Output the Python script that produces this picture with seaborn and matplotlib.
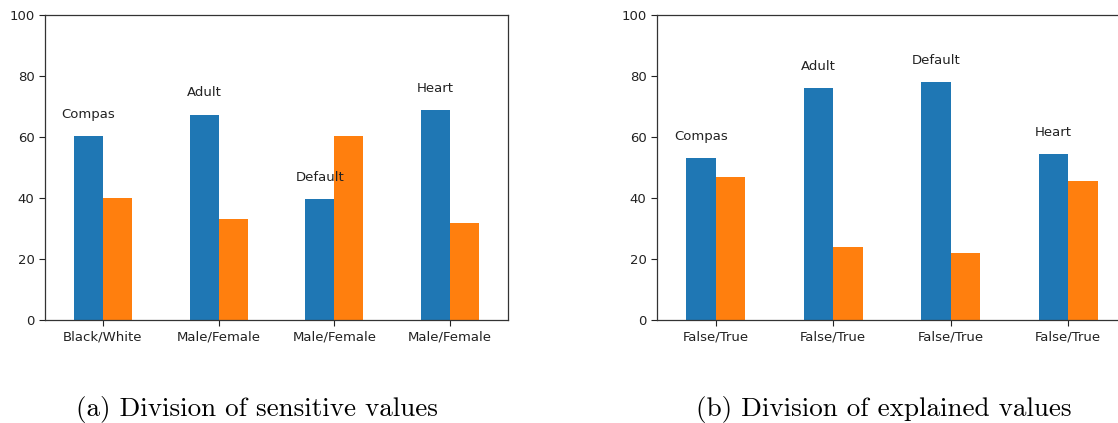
import matplotlib
matplotlib.use("Agg")
import matplotlib.pyplot as plt
import seaborn as sns
import pandas as pd

datasets = ["Compas", "Adult", "Default", "Heart"]

sensitive_labels = ["Black/White", "Male/Female", "Male/Female", "Male/Female"]
sensitive_first = [60.3, 67.3, 39.7, 68.7]
sensitive_second = [40.0, 33.2, 60.3, 31.9]

explained_labels = ["False/True", "False/True", "False/True", "False/True"]
explained_first = [53.0, 76.1, 77.9, 54.3]
explained_second = [47.0, 23.9, 22.1, 45.7]

captions = ["(a) Division of sensitive values", "(b) Division of explained values"]

palette = ["#1f77b4", "#ff7f0e"]


def long_frame(first, second):
    rows = []
    for i, (a, b) in enumerate(zip(first, second)):
        rows.append({"pos": i, "part": "first", "value": a})
        rows.append({"pos": i, "part": "second", "value": b})
    return pd.DataFrame(rows)


def draw_panel(ax, first, second, ticklabels):
    df = long_frame(first, second)
    sns.barplot(data=df, x="pos", y="value", hue="part", ax=ax,
                palette=palette, width=0.5, saturation=1, dodge=True,
                errorbar=None, legend=False, linewidth=0)
    ax.set_xlim(-0.5, len(first) - 0.5)
    ax.set_ylim(0, 100)
    ax.set_yticks([0, 20, 40, 60, 80, 100])
    ax.set_xticks(range(len(first)))
    ax.set_xticklabels(ticklabels)
    ax.set_xlabel("")
    ax.set_ylabel("")
    ax.tick_params(labelsize=9.5, colors="#222222", length=4)
    for s in ax.spines.values():
        s.set_color("#333333")
        s.set_linewidth(0.9)
    for i, (name, v) in enumerate(zip(datasets, first)):
        ax.text(i - 0.125, v + 5, name, ha="center", va="bottom",
                fontsize=9.5, color="#222222")


fig = plt.figure(figsize=(11.18, 4.23), dpi=100)
W, H = 1118, 423
ax1 = fig.add_axes([45 / W, (H - 320) / H, 463 / W, 305 / H])
ax2 = fig.add_axes([657 / W, (H - 320) / H, 470 / W, 305 / H])

draw_panel(ax1, sensitive_first, sensitive_second, sensitive_labels)
draw_panel(ax2, explained_first, explained_second, explained_labels)

fig.text(257 / W, (H - 409) / H, captions[0], ha="center", va="center",
         fontsize=19.5, family="cmr10")
fig.text(884 / W, (H - 409) / H, captions[1], ha="center", va="center",
         fontsize=19.5, family="cmr10")

fig.savefig("out.png", dpi=100)
